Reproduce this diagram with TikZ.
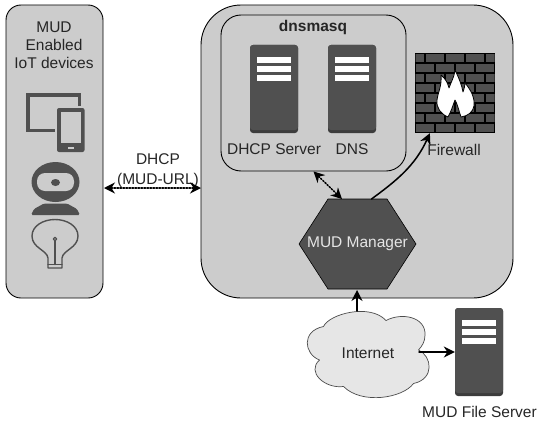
\documentclass[tikz,border=0pt]{standalone}
\usepackage{fontspec}
\setmainfont{Liberation Sans}
\usepackage{xcolor}
\usetikzlibrary{arrows.meta, positioning}

\definecolor{panelgray}{HTML}{CCCCCC}
\definecolor{icongray}{HTML}{505050}
\definecolor{icondark}{HTML}{3C3C3C}
\definecolor{cloudgray}{HTML}{E6E6E6}

\tikzset{
  panel/.style={draw=black, fill=panelgray, line width=0.9pt},
  tag/.style={inner sep=0pt, text=black!85, font=\fontsize{15.5}{18}\selectfont, align=center},
  link/.style={line width=1.5pt, -{Stealth[length=11pt, width=11pt]}},
  dotlink/.style={line width=1.5pt, dash pattern=on 1.5pt off 1.5pt, {Stealth[length=11pt, width=11pt]}-{Stealth[length=11pt, width=11pt]}}
}

% server icon: name, centre x, centre y
\newcommand{\serverbox}[3]{
  \node[fill=icondark, rounded corners=3pt, minimum width=48pt, minimum height=88pt, inner sep=0pt] (#1) at (#2,#3) {};
  \fill[icongray, rounded corners=3pt] (#2-24,#3-44) rectangle (#2+24,#3+41);
  \foreach \barY in {-32,-23,-14}
    \fill[white] (#2-17,#3+\barY) rectangle (#2+17,#3+\barY+5.5);
}

\begin{document}
\begin{tikzpicture}[x=1pt, y=-1pt, line cap=round, line join=round]
  \useasboundingbox (0,0) rectangle (537,420);

  % outer panels
  \node[panel, rounded corners=15pt, minimum width=97pt, minimum height=293pt] (iot) at (54.5,151.5) {};
  \node[panel, rounded corners=40pt, minimum width=312pt, minimum height=293pt] (gateway) at (357,151.5) {};
  \node[draw=black, line width=0.9pt, rounded corners=20pt, minimum width=185pt, minimum height=156pt] (dnsmasq) at (313.5,93) {};

  \node[tag] (iottitle) at (54,45) {MUD\\Enabled\\IoT devices};
  \node[tag, font=\fontsize{15.5}{18}\selectfont\bfseries] (dnstitle) at (313,27) {dnsmasq};

  % tablet and phone
  \draw[icongray, line width=3.6pt, line cap=butt, line join=miter] (79.5,106) -- (79.5,95) -- (28,95) -- (28,130.5) -- (55,130.5);
  \fill[icongray, rounded corners=2pt] (57,108) rectangle (84.5,152);
  \fill[panelgray] (60.5,112) rectangle (81,142.5);
  \fill[panelgray] (68,146.5) rectangle (73.5,148.5);

  % webcam
  \fill[icongray] (55.5,182) ellipse (24 and 20);
  \fill[panelgray, rounded corners=8pt] (37,173) rectangle (74,191);
  \fill[icongray] (55.5,182.5) ellipse (4.5 and 3.5);
  \fill[icongray, rounded corners=1.5pt] (31,215) -- (34,209) -- (44,203.5) -- (67,203.5) -- (77,209) -- (80,215) -- cycle;

  % bulb
  \draw[icongray, line width=1.4pt] (48,268) -- (48,258) .. controls (47,250) and (32,248) .. (32,236)
    .. controls (32,226) and (43,219.5) .. (55,219.5)
    .. controls (67,219.5) and (78,226) .. (78,236)
    .. controls (78,248) and (63,250) .. (62,258) -- (62,268) -- cycle;
  \draw[icongray, line width=1.4pt] (48,264.5) -- (62,264.5);
  \draw[icongray, line width=1.4pt] (55,241) -- (55,264.5);
  \draw[icongray, line width=1.2pt] (55,239) circle (1.8);

  % servers
  \serverbox{dhcpserver}{274}{89}
  \serverbox{dnsserver}{352}{89}
  \node[tag] (dhcplabel) at (274,149) {DHCP Server};
  \node[tag] (dnslabel) at (352,149) {DNS};

  % firewall
  \node[fill=black, minimum size=80pt, inner sep=0pt] (firewall) at (455,93) {};
  \begin{scope}
    \clip (415.5,53.5) rectangle (494.5,132.5);
    \foreach \row in {0,...,7}{
      \pgfmathsetmacro{\startX}{isodd(\row) ? 415 : 405}
      \foreach \col in {0,...,4}
        \fill[icongray] (\startX+20*\col+1,53+10*\row+1) rectangle (\startX+20*\col+19,53+10*\row+9);
    }
  \end{scope}
  \draw[black, fill=white, line width=0.8pt] (448,117) .. controls (441,114) and (436,108) .. (437,100)
    .. controls (438,92) and (442,86) .. (441,75)
    .. controls (446,79) and (448,84) .. (449,88)
    .. controls (451,82) and (454,78) .. (455,70)
    .. controls (459,78) and (462,86) .. (463,92)
    .. controls (464,89) and (465,86) .. (465,83)
    .. controls (471,90) and (475,98) .. (474,106)
    .. controls (473,112) and (468,116) .. (461,117)
    .. controls (459,112) and (458,105) .. (455,100)
    .. controls (453,105) and (451,112) .. (448,117) -- cycle;
  \node[tag] (fwlabel) at (454,150) {Firewall};

  % MUD manager hexagon
  \fill[icongray] (299,244) -- (328,199) -- (387,199) -- (416,244) -- (387,289) -- (328,289) -- cycle;
  \draw[black, line width=0.6pt] (299,244) -- (328,199) -- (387,199) -- (416,244) -- (387,289) -- (328,289) -- cycle;
  \node[tag, text=white!90!black] (manager) at (357.5,244) {MUD Manager};
  \coordinate (hexdns) at (342,199);
  \coordinate (hexfw) at (371.5,199);
  \coordinate (hexbottom) at (357,290);

  % internet cloud
  \draw[black!70, fill=cloudgray, line width=0.7pt] (323.5,326.5)
    .. controls (329,314) and (370,303) .. (386,320.5)
    .. controls (402,312) and (426,317) .. (425,335)
    .. controls (425,342) and (422,346) .. (418.5,350)
    .. controls (432,356) and (435,379) .. (413.5,383.5)
    .. controls (403,398) and (362,405) .. (343.5,386.5)
    .. controls (325,389) and (306,372) .. (319.5,360)
    .. controls (304,354) and (301,331) .. (323.5,326.5) -- cycle;
  \node[tag] (internet) at (368,353) {Internet};
  \coordinate (cloudtop) at (357,311);
  \coordinate (cloudright) at (419,352);

  % file server
  \serverbox{fileserver}{479}{352}
  \node[tag] (filelabel) at (479.5,412) {MUD File Server};

  % connectors
  \node[tag] (dhcptext) at (158,171) {DHCP\\[2pt](MUD-URL)};
  \coordinate (iotport) at (104,188);
  \coordinate (gwport) at (201,188);
  \draw[dotlink] (iotport) -- (gwport);
  \draw[dotlink] (dnsmasq.south) -- (hexdns);
  \draw[link] (hexfw) .. controls (396,181) and (415,166) .. (firewall.238);
  \draw[link] (cloudtop) -- (hexbottom);
  \draw[link] (cloudright) -- (fileserver.west);
\end{tikzpicture}
\end{document}
